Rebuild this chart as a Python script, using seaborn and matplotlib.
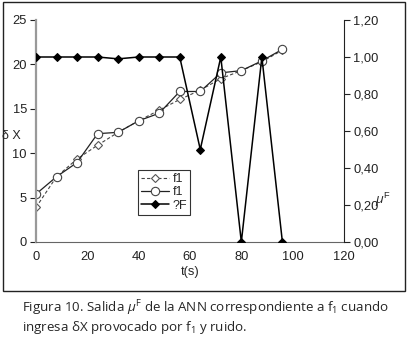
import matplotlib
matplotlib.use("Agg")
import matplotlib.pyplot as plt
import seaborn as sns
import pandas as pd
from matplotlib.patches import Rectangle

t = [0, 8, 16, 24, 32, 40, 48, 56, 64, 72, 80, 88, 96]
f1_a = [3.9, 7.35, 9.35, 10.9, 12.35, 13.65, 14.85, 16.05, 17.1, 18.4, 19.3, 20.3, 21.6]
f1_b = [5.4, 7.35, 8.95, 12.2, 12.35, 13.65, 14.5, 16.95, 16.95, 19.05, 19.3, 20.4, 21.7]
mu_f = [1.00, 1.00, 1.00, 1.00, 0.99, 1.00, 1.00, 1.00, 0.50, 1.00, 0.00, 1.00, 0.00]

left_ticks = [0, 5, 10, 15, 20, 25]
right_ticks = [0.0, 0.2, 0.4, 0.6, 0.8, 1.0, 1.2]
x_ticks = [0, 20, 40, 60, 80, 100, 120]

df = pd.DataFrame({"t": t, "f1_a": f1_a, "f1_b": f1_b, "mu": mu_f})

sns.set_style("white")
plt.rcParams["font.family"] = ["Liberation Sans", "DejaVu Sans"]
plt.rcParams["mathtext.fontset"] = "custom"
plt.rcParams["mathtext.rm"] = "Open Sans"
plt.rcParams["mathtext.it"] = "Open Sans:italic"

fig = plt.figure(figsize=(4.08, 3.37), dpi=100)
ax = fig.add_axes([36 / 408, 95 / 337, 308 / 408, 222 / 337])
ax2 = ax.twinx()

sns.lineplot(data=df, x="t", y="f1_a", ax=ax, color="#444444", linestyle=(0, (3, 2)),
             linewidth=0.8, marker="D", markersize=4.5, markerfacecolor="white",
             markeredgecolor="#555555", markeredgewidth=0.8, label="f1", legend=False)
sns.lineplot(data=df, x="t", y="f1_b", ax=ax, color="#222222", linewidth=0.9,
             marker="o", markersize=6, markerfacecolor="white",
             markeredgecolor="#444444", markeredgewidth=0.8, label="f1", legend=False)
sns.lineplot(data=df, x="t", y="mu", ax=ax2, color="black", linewidth=1.1,
             marker="D", markersize=4.5, markerfacecolor="black",
             markeredgecolor="black", label="?F", legend=False)

ax.set_xlim(0, 120)
ax.set_ylim(0, 25)
ax2.set_ylim(0, 1.2)
ax.set_xticks(x_ticks)
ax.set_yticks(left_ticks)
ax2.set_yticks(right_ticks)
ax2.set_yticklabels([f"{v:.2f}".replace(".", ",") for v in right_ticks])

for a in (ax, ax2):
    a.tick_params(direction="out", length=4, width=0.8, labelsize=9.3, colors="#222222", pad=2.5)
    a.spines["top"].set_visible(False)
ax.spines["left"].set_color("#999999")
ax.spines["left"].set_linewidth(1.6)
ax.spines["bottom"].set_color("#666666")
ax.spines["right"].set_visible(False)
ax2.spines["left"].set_visible(False)
ax2.spines["bottom"].set_visible(False)
ax2.spines["right"].set_color("#222222")

ax.set_xlabel("t(s)", fontsize=9.3, labelpad=2)
ax.set_ylabel("")
ax2.set_ylabel("")
fig.text(1.5 / 408, 1 - 136 / 337, "δ X", fontsize=9, ha="left", va="center")
fig.text(383 / 408, 1 - 200 / 337, r"$\mu^{\mathregular{F}}$", fontsize=9.5, ha="center", va="center")

h1, l1 = ax.get_legend_handles_labels()
h2, l2 = ax2.get_legend_handles_labels()
leg = ax.legend(h1 + h2, l1 + l2, loc="upper left", bbox_to_anchor=(138 / 408, 1 - 170 / 337),
                bbox_transform=fig.transFigure, fontsize=9, frameon=True, fancybox=False,
                handlelength=2.2, handletextpad=0.3, borderpad=0.25, labelspacing=0.1,
                borderaxespad=0)
leg.get_frame().set_edgecolor("black")
leg.get_frame().set_linewidth(0.8)

fig.patches.append(Rectangle((3 / 408, 1 - 291 / 337), 402 / 408, 289 / 337,
                             transform=fig.transFigure, fill=False, edgecolor="#222222",
                             linewidth=1.0))

cap = ("Figura 10. Salida $\\mu^{\\mathregular{F}}$ de la ANN correspondiente a f$_1$ cuando\n"
       "ingresa δX provocado por f$_1$ y ruido.")
fig.text(22 / 408, 1 - 298 / 337, cap, fontsize=9.6, family=["Open Sans", "DejaVu Sans"],
         ha="left", va="top", linespacing=1.15)

fig.savefig("out.png", dpi=100)
